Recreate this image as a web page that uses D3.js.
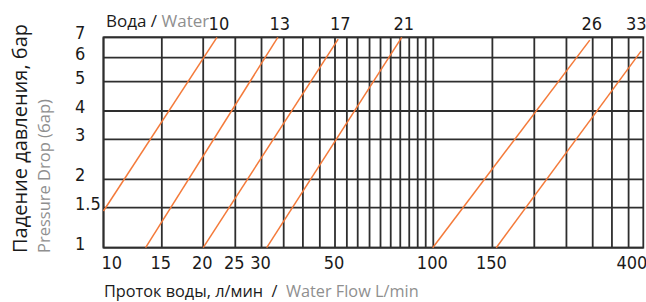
<!DOCTYPE html>
<html>
<head>
<meta charset="utf-8">
<script src="https://cdn.jsdelivr.net/npm/d3@7/dist/d3.min.js"></script>
<style>
  html, body { margin: 0; padding: 0; background: #fff; }
  svg { display: block; }
  .num { font-family: "Liberation Sans Narrow", "Arial Narrow", "DejaVu Sans Condensed", sans-serif; font-size: 18px; fill: #1a1a1a; }
  .ttl { font-family: "Open Sans", "Noto Sans", sans-serif; }
</style>
</head>
<body>
<script>
// ---- data ----
const xGridValues = [10, 15, 20, 25, 30, 35, 40, 45, 50, 55, 60, 65, 70, 75, 80, 85, 90, 95, 100, 150, 200, 250, 300, 350, 400];
const xTickLabels = [10, 15, 20, 25, 30, 50, 100, 150, 400];
const yGridValues = [1, 1.5, 2, 3, 4, 5, 6, 7];
const yTickLabels = [1, 1.5, 2, 3, 4, 5, 6, 7];
const curveLabels = ["10", "13", "17", "21", "26", "33"];
const flowStart = [10, 13.4, 20, 31.1, 99.6, 154];
const dropStart = [1.45, 1, 1, 1, 1, 1];
const flowEnd = [22, 33.6, 51.3, 80.8, 294, 442];
const dropEnd = [7, 7, 6.9, 7, 6.85, 6.3];

const W = 646, H = 302;
const L = 103.5, R = 643.3, T = 37.3, B = 247.7;

const svg = d3.select("body").append("svg").attr("width", W).attr("height", H);

// piecewise logarithmic scales calibrated to the printed grid
const x = d3.scaleLog()
  .domain([10, 50, 60, 100, 200, 300, 450])
  .range([L, 335, 357.7, 433.3, 534.3, 592.7, R]);
const y = d3.scaleLog()
  .domain([1, 2, 4, 7])
  .range([B, 179.3, 111, T]);

const gridColor = "#2e2e2e";

// vertical grid
svg.append("g").selectAll("line").data(xGridValues).join("line")
  .attr("x1", d => x(d)).attr("x2", d => x(d))
  .attr("y1", T).attr("y2", B)
  .attr("stroke", gridColor).attr("stroke-width", 1.8);

// horizontal grid
svg.append("g").selectAll("line").data(yGridValues).join("line")
  .attr("x1", L).attr("x2", R)
  .attr("y1", d => y(d)).attr("y2", d => y(d))
  .attr("stroke", gridColor).attr("stroke-width", 1.8);

// border
svg.append("rect").attr("x", L).attr("y", T).attr("width", R - L).attr("height", B - T)
  .attr("fill", "none").attr("stroke", gridColor).attr("stroke-width", 1.8);

// curves
const curves = curveLabels.map((lab, i) => ({
  label: lab,
  pts: [[flowStart[i], dropStart[i]], [flowEnd[i], dropEnd[i]]]
}));
const lineGen = d3.line().x(d => x(d[0])).y(d => y(d[1]));
svg.append("g").selectAll("path").data(curves).join("path")
  .attr("d", d => lineGen(d.pts))
  .attr("fill", "none").attr("stroke", "#f47a3a").attr("stroke-width", 1.5);

// curve labels on top
svg.append("g").selectAll("text").data(curves).join("text")
  .attr("class", "num")
  .attr("x", d => Math.min(x(d.pts[1][0]) + 2, R - 7))
  .attr("y", 30)
  .attr("text-anchor", "middle")
  .text(d => d.label);

// y tick labels
svg.append("g").selectAll("text").data(yTickLabels).join("text")
  .attr("class", "num")
  .attr("x", 75)
  .attr("y", d => y(d) + 2)
  .attr("text-anchor", "start")
  .text(d => String(d));

// x tick labels
svg.append("g").selectAll("text").data(xTickLabels).join("text")
  .attr("class", "num")
  .attr("x", (d, i) => i === 0 ? L - 2 : (i === xTickLabels.length - 1 ? R + 4 : x(d) - 1))
  .attr("y", 269)
  .attr("text-anchor", (d, i) => i === 0 ? "start" : (i === xTickLabels.length - 1 ? "end" : "middle"))
  .text(d => String(d));

// title
const title = svg.append("text").attr("class", "ttl").attr("x", 106).attr("y", 26.5)
  .attr("font-size", 17);
title.append("tspan").attr("fill", "#1a1a1a").text("Вода / ");
title.append("tspan").attr("fill", "#8f8f8f").text("Water");

// x axis title
const xt = svg.append("text").attr("class", "ttl").attr("x", 104).attr("y", 297)
  .attr("font-size", 16.3).attr("xml:space", "preserve");
xt.append("tspan").attr("fill", "#1a1a1a").text("Проток воды, л/мин  /  ");
xt.append("tspan").attr("fill", "#8f8f8f").text("Water Flow L/min");

// y axis titles
svg.append("text").attr("class", "ttl")
  .attr("transform", "translate(26.5,253) rotate(-90)")
  .attr("font-size", 20).attr("fill", "#1a1a1a")
  .text("Падение давления, бар");
svg.append("text").attr("class", "ttl")
  .attr("transform", "translate(50,253) rotate(-90)")
  .attr("font-size", 16.5).attr("fill", "#8f8f8f")
  .text("Pressure Drop (бар)");
</script>
</body>
</html>
